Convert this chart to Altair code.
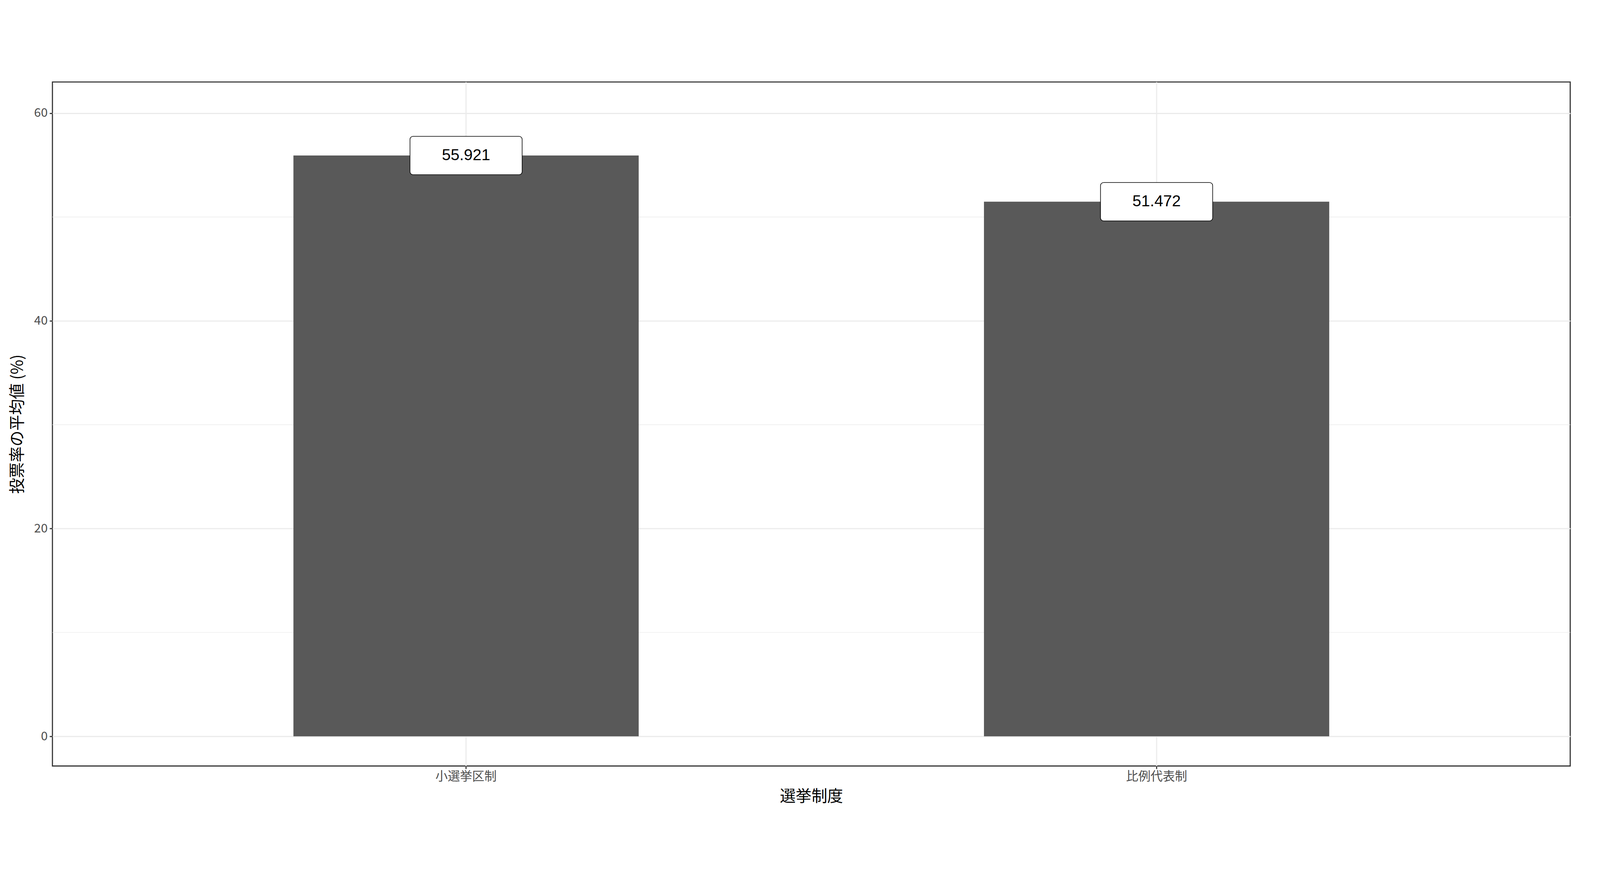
import altair as alt
import pandas as pd

systems = ["小選挙区制", "比例代表制"]
turnout = [55.921, 51.472]
minor_ticks = [10, 30, 50]

df = pd.DataFrame({"system": systems, "turnout": turnout})
df["label"] = df["turnout"].map(lambda v: f"{v:.3f}")
df["lo"] = df["turnout"] - 1.85
df["hi"] = df["turnout"] + 1.85

FONT = "Noto Sans CJK JP"
S = 3.06

xscale = alt.Scale(domain=systems, paddingInner=0.5, paddingOuter=0.349)
yscale = alt.Scale(domain=[-2.86, 63], nice=False, zero=False)

common = dict(grid=True, gridColor="#ebebeb", gridWidth=1.1 * S, tickColor="#333333",
              tickWidth=1.1 * S, tickSize=2.8 * S, labelColor="#4d4d4d",
              labelFontSize=12 * S, titleFontSize=15.5 * S, titleColor="black",
              titleFontWeight="normal", domain=False, labelFont=FONT, titleFont=FONT,
              labelLimit=0)

x = alt.X("system:N", scale=xscale, sort=systems, title="選挙制度",
          axis=alt.Axis(labelAngle=0, bandPosition=0.5, labelPadding=2 * S,
                        titlePadding=6 * S, **common))
y = alt.Y("turnout:Q", scale=yscale, title="投票率の平均値 (%)",
          axis=alt.Axis(values=[0, 20, 40, 60], labelPadding=2 * S,
                        titlePadding=8 * S, **common))

minor = alt.Chart(pd.DataFrame({"v": minor_ticks})).mark_rule(
    color="#ebebeb", strokeWidth=0.55 * S
).encode(y=alt.Y("v:Q", scale=yscale))

bars = alt.Chart(df).mark_bar(color="#595959").encode(x=x, y=y)

boxes = alt.Chart(df).mark_bar(
    width=110 * S, color="white", stroke="black", strokeWidth=0.6 * S, cornerRadius=3 * S
).encode(x=alt.X("system:N", scale=xscale, sort=systems),
         y=alt.Y("lo:Q", scale=yscale), y2="hi:Q")

text = alt.Chart(df).mark_text(
    fontSize=15.5 * S, font="Liberation Sans", color="black", baseline="middle", align="center"
).encode(x=alt.X("system:N", scale=xscale, sort=systems),
         y=alt.Y("turnout:Q", scale=yscale), text="label:N")

chart = alt.layer(minor, bars, boxes, text).properties(
    width=4784, height=2234, background="white",
    autosize=alt.AutoSizeParams(type="fit", contains="padding"),
    padding={"left": 20, "top": 44, "right": 79, "bottom": 20}
).configure_view(stroke="#333333", strokeWidth=1.1 * S)

chart.save("out.html", embed_options={"renderer": "svg", "actions": False})
